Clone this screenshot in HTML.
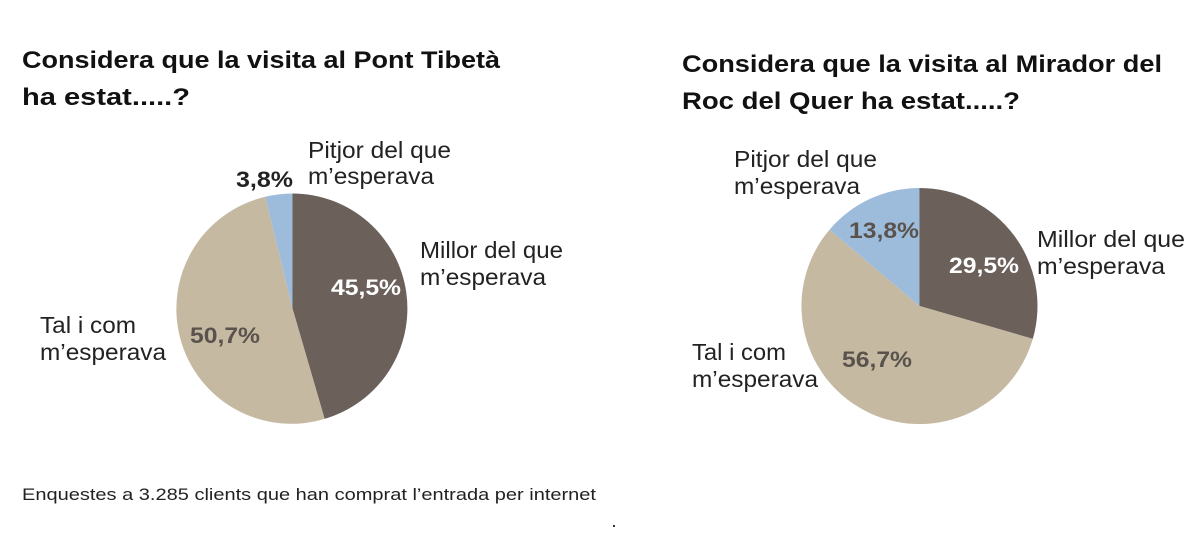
<!DOCTYPE html>
<html><head><meta charset="utf-8"><style>
body{margin:0;width:1200px;height:535px;background:#fff;overflow:hidden}
svg{display:block;font-family:"Liberation Sans",sans-serif}
</style></head><body>
<svg width="1200" height="535" viewBox="0 0 1200 535">
<g font-weight="bold" font-size="24" fill="#111" lengthAdjust="spacingAndGlyphs">
<text x="22" y="68" textLength="478" lengthAdjust="spacingAndGlyphs">Considera que la visita al Pont Tibetà</text>
<text x="22" y="105" textLength="168" lengthAdjust="spacingAndGlyphs">ha estat.....?</text>
<text x="682" y="72" textLength="480" lengthAdjust="spacingAndGlyphs">Considera que la visita al Mirador del</text>
<text x="682" y="109" textLength="338" lengthAdjust="spacingAndGlyphs">Roc del Quer ha estat.....?</text>
</g>
<path d="M292.5,308.5 L292.5,193.5 A115,115 0 0 1 324.6,418.9 Z" fill="#6b615a"/>
<path d="M292.5,308.5 L324.6,418.9 A115,115 0 1 1 265.3,196.8 Z" fill="#c5b9a2"/>
<path d="M292.5,308.5 L265.3,196.8 A115,115 0 0 1 292.5,193.5 Z" fill="#9dbcdb"/>
<path d="M919.5,306 L919.5,188 A118,118 0 0 1 1032.8,338.9 Z" fill="#6b615a"/>
<path d="M919.5,306 L1032.8,338.9 A118,118 0 1 1 829.5,229.7 Z" fill="#c5b9a2"/>
<path d="M919.5,306 L829.5,229.7 A118,118 0 0 1 919.5,188 Z" fill="#9dbcdb"/>
<g font-size="23" fill="#222">
<text x="308" y="158" textLength="143" lengthAdjust="spacingAndGlyphs">Pitjor del que</text>
<text x="308" y="184" textLength="126" lengthAdjust="spacingAndGlyphs">m’esperava</text>
<text x="420" y="258" textLength="143" lengthAdjust="spacingAndGlyphs">Millor del que</text>
<text x="420" y="285" textLength="126" lengthAdjust="spacingAndGlyphs">m’esperava</text>
<text x="40" y="333" textLength="96" lengthAdjust="spacingAndGlyphs">Tal i com</text>
<text x="40" y="360" textLength="126" lengthAdjust="spacingAndGlyphs">m’esperava</text>
<text x="734" y="167" textLength="143" lengthAdjust="spacingAndGlyphs">Pitjor del que</text>
<text x="734" y="194" textLength="126" lengthAdjust="spacingAndGlyphs">m’esperava</text>
<text x="1037" y="247" textLength="148" lengthAdjust="spacingAndGlyphs">Millor del que</text>
<text x="1037" y="274" textLength="128" lengthAdjust="spacingAndGlyphs">m’esperava</text>
<text x="692" y="360" textLength="94" lengthAdjust="spacingAndGlyphs">Tal i com</text>
<text x="692" y="387" textLength="126" lengthAdjust="spacingAndGlyphs">m’esperava</text>
</g>
<g font-size="22" font-weight="bold">
<text x="236" y="187" fill="#222" textLength="57" lengthAdjust="spacingAndGlyphs">3,8%</text>
<text x="331" y="295" fill="#fff" textLength="70" lengthAdjust="spacingAndGlyphs">45,5%</text>
<text x="190" y="343" fill="#5a524c" textLength="70" lengthAdjust="spacingAndGlyphs">50,7%</text>
<text x="849" y="238" fill="#5a524c" textLength="70" lengthAdjust="spacingAndGlyphs">13,8%</text>
<text x="949" y="273" fill="#fff" textLength="70" lengthAdjust="spacingAndGlyphs">29,5%</text>
<text x="842" y="367" fill="#5a524c" textLength="70" lengthAdjust="spacingAndGlyphs">56,7%</text>
</g>
<text x="22" y="500" font-size="17" fill="#222" textLength="574" lengthAdjust="spacingAndGlyphs">Enquestes a 3.285 clients que han comprat l’entrada per internet</text>
<rect x="613" y="525" width="2" height="2" fill="#333"/>
</svg>
</body></html>
